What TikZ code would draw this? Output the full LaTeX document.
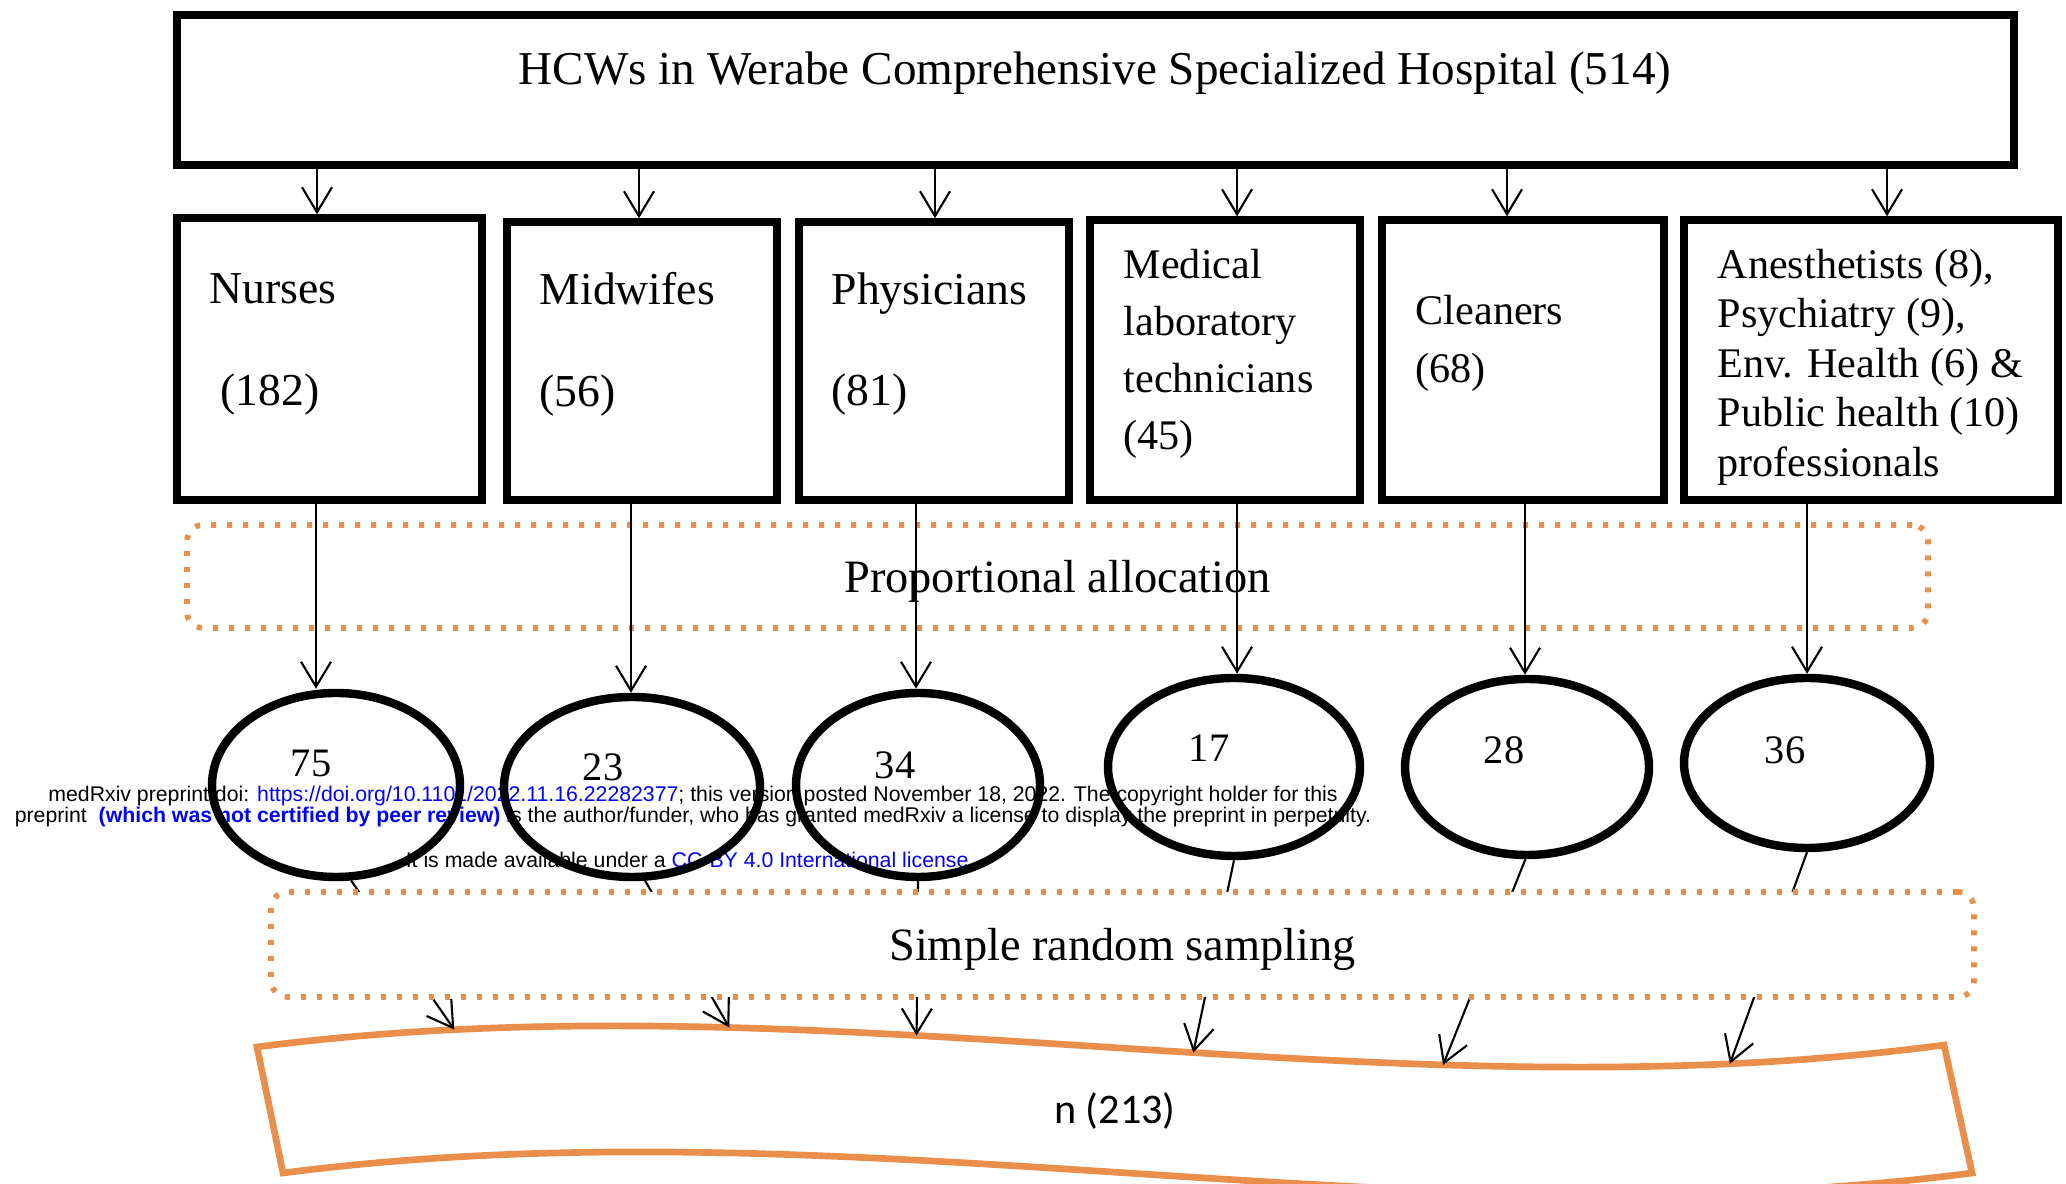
\documentclass[tikz,border=0pt]{standalone}
\usepackage{fontspec}
\setmainfont{Liberation Serif}
\newfontfamily\wmfont{Liberation Sans}
\newfontfamily\calfont{Carlito}
\usetikzlibrary{shapes.geometric,arrows.meta}
\definecolor{accent}{RGB}{234,142,76}
\definecolor{linkblue}{RGB}{0,0,255}

\begin{document}
\begin{tikzpicture}[x=0.1mm,y=0.1mm,
    catbox/.style={draw,line width=2.1pt,inner sep=0pt},
    numell/.style={draw,ellipse,line width=2.4pt,inner sep=0pt},
    arr/.style={line width=0.6pt,-{Straight Barb[length=2.5mm,width=3mm,line width=0.6pt]}},
    stepbox/.style={draw=accent,line width=1.6pt,dash pattern=on 0.5mm off 1.1mm,
      rounded corners=1.6mm,inner sep=0pt,text height=4.2mm,text depth=1mm,
      font=\fontsize{13.2}{15}\selectfont},
    lbl/.style={align=left,anchor=west,inner sep=0pt},
    num/.style={inner sep=0pt,font=\fontsize{11.5}{13}\selectfont},
    wm/.style={inner sep=0pt,font=\wmfont\fontsize{6.05}{7}\selectfont},
    wave/.style={draw=accent,line width=1.9pt},
  ]
  \useasboundingbox (0,0) rectangle (2066,1183);

  % Wasserzeichen
  \node[wm] (wm1) at (693,387) {medRxiv preprint doi: \textcolor{linkblue}{https://doi.org/10.1101/2022.11.16.22282377}; this version posted November 18, 2022. The copyright holder for this};
  \node[wm] (wm2) at (693,366) {preprint\ \ \textcolor{linkblue}{\bfseries (which was not certified by peer review)} is the author/funder, who has granted medRxiv a license to display the preprint in perpetuity.};
  \node[wm] (wm3) at (693,323) {It is made available under a \textcolor{linkblue}{CC-BY 4.0 International license} .};

  % Krankenhaus
  \node[catbox,minimum width=183.7mm,minimum height=15mm] (hosp) at (1095.5,1093) {};
  \node[inner sep=0pt,font=\fontsize{13.4}{16}\selectfont] (hosptxt) at (1095,1110) {HCWs in Werabe Comprehensive Specialized Hospital (514)};

  % Berufsgruppen
  \node[catbox,minimum width=30.5mm,minimum height=28.2mm] (nurse) at (329.5,824) {};
  \node[catbox,minimum width=27mm,minimum height=27.8mm] (midw) at (642,822) {};
  \node[catbox,minimum width=27mm,minimum height=27.8mm] (phys) at (934,822) {};
  \node[catbox,minimum width=27mm,minimum height=28mm] (medlab) at (1225,823) {};
  \node[catbox,minimum width=28.2mm,minimum height=28mm] (clean) at (1523,823) {};
  \node[catbox,minimum width=37.4mm,minimum height=28mm] (other) at (1871,823) {};

  \node[lbl,font=\fontsize{13}{29}\selectfont] (nursetxt) at (209,839) {Nurses\\\hspace*{1.1mm}(182)};
  \node[lbl,font=\fontsize{13}{29}\selectfont] (midwtxt) at (539,839) {Midwifes\\(56)};
  \node[lbl,font=\fontsize{13}{29}\selectfont] (phystxt) at (831,839) {Physicians\\(81)};
  \node[lbl,font=\fontsize{12}{16.2}\selectfont] (medlabtxt) at (1123,829) {Medical\\laboratory\\technicians\\(45)};
  \node[lbl,font=\fontsize{12}{16.5}\selectfont] (cleantxt) at (1415,840) {Cleaners\\(68)};
  \node[lbl,font=\fontsize{12}{14.1}\selectfont] (othertxt) at (1717,816) {Anesthetists (8),\\Psychiatry (9),\\Env. Health (6) \&\\Public health (10)\\professionals};

  \foreach \b/\dx in {nurse/-1.25,midw/-0.3,phys/0.1,medlab/1.2,clean/-1.6,other/1.6}
    \draw[arr] ([xshift=\dx mm]\b.north |- hosp.south) -- ([xshift=\dx mm]\b.north);

  % Proportionale Aufteilung
  \node[stepbox,minimum width=174.1mm,minimum height=10.3mm] (propalloc) at (1057.5,606.5) {Proportional allocation};

  \node[numell,minimum width=24.8mm,minimum height=18.4mm] (e1) at (336,398) {};
  \node[numell,minimum width=25.6mm,minimum height=18mm] (e2) at (632,396) {};
  \node[numell,minimum width=24.4mm,minimum height=18.4mm] (e3) at (918,398) {};
  \node[numell,minimum width=25.2mm,minimum height=17.8mm] (e4) at (1234,416) {};
  \node[numell,minimum width=24.4mm,minimum height=17.6mm] (e5) at (1527,416) {};
  \node[numell,minimum width=24.6mm,minimum height=17mm] (e6) at (1807,420) {};

  \node[num] (n1) at (311,420) {75};
  \node[num] (n2) at (603,416) {23};
  \node[num] (n3) at (895,418) {34};
  \node[num] (n4) at (1209,435) {17};
  \node[num] (n5) at (1504,433) {28};
  \node[num] (n6) at (1785,433) {36};

  \foreach \b/\e/\dx in {nurse/e1/-2,midw/e2/-0.1,phys/e3/-0.2,medlab/e4/0.3,clean/e5/-0.2,other/e6/0}
    \draw[arr] ([xshift=\dx mm]\e.north |- \b.south) -- ([xshift=\dx mm]\e.north);

  % Stichprobe
  \draw[wave] (257,136) .. controls (819,209) and (1382,63) .. (1944,138)
      coordinate[pos=0.117] (t1) coordinate[pos=0.28] (t2) coordinate[pos=0.391] (t3)
      coordinate[pos=0.555] (t4) coordinate[pos=0.703] (t5) coordinate[pos=0.873] (t6)
    -- (1972,10) .. controls (1409,-63) and (846,83) .. (283,10) -- cycle;
  \node[inner sep=0pt,font=\calfont\fontsize{12}{14}\selectfont] (ntotal) at (1115,72) {n (213)};

  \foreach \e/\a/\t in {e1/279/t1,e2/278/t2,e3/270/t3,e4/270/t4,e5/269/t5,e6/270/t6}
    \draw[arr] (\e.\a) -- (\t);

  \node[stepbox,fill=white,minimum width=170.3mm,minimum height=10.5mm] (sampling) at (1122.5,238.5) {Simple random sampling};
\end{tikzpicture}
\end{document}
